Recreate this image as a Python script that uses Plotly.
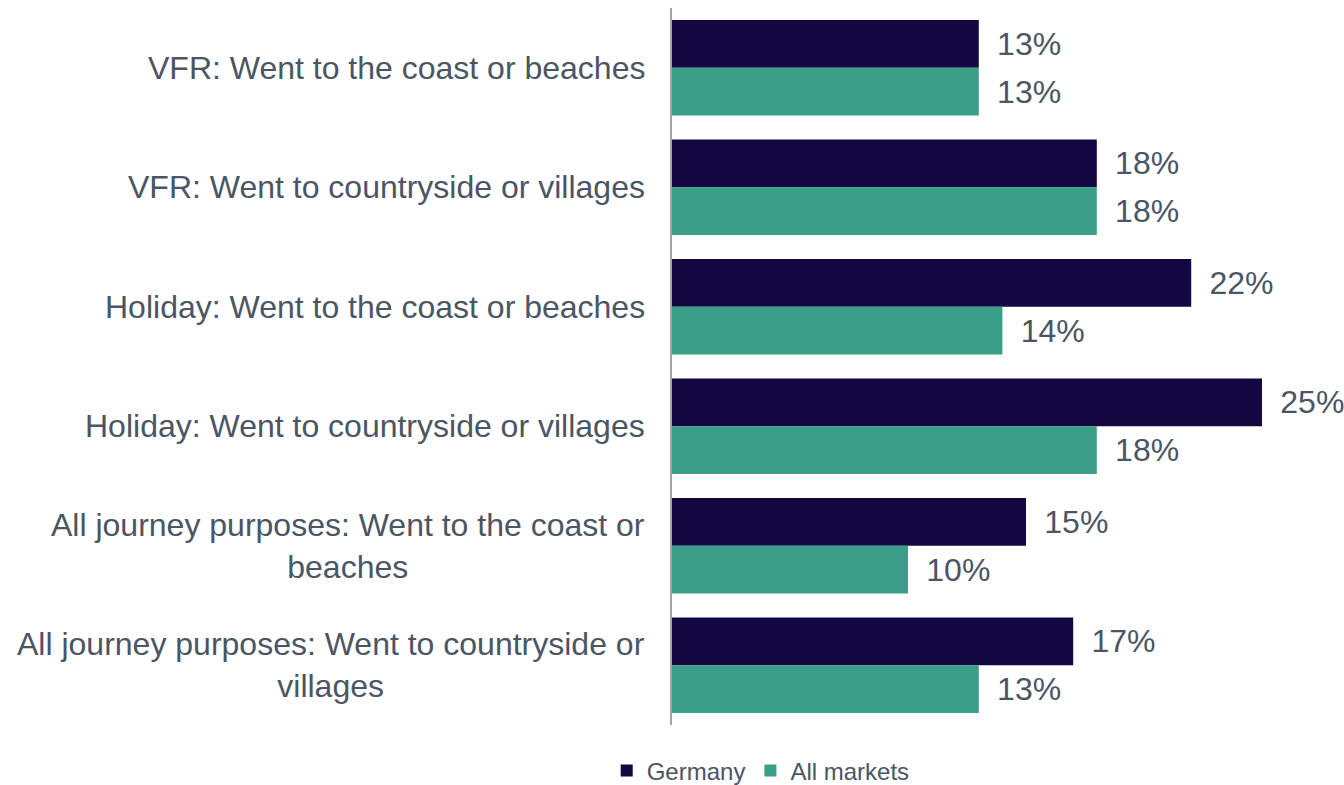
import plotly.graph_objects as go

# Categories (top to bottom) and shares of visitors, in percent
categories = [
    "VFR: Went to the coast or beaches",
    "VFR: Went to countryside or villages",
    "Holiday: Went to the coast or beaches",
    "Holiday: Went to countryside or villages",
    "All journey purposes: Went to the coast or<br>beaches",
    "All journey purposes: Went to countryside or<br>villages",
]
germany = [13, 18, 22, 25, 15, 17]
all_markets = [13, 18, 14, 18, 10, 13]

series_names = ["Germany", "All markets"]
series_colors = ["#130742", "#3A9E89"]

TEXT = "#4B5563"
FONT = "Liberation Sans, Arial, sans-serif"
PAD = "\u00a0\u2009"

fig = go.Figure()
for name, vals, color in zip(series_names, [germany, all_markets], series_colors):
    fig.add_trace(go.Bar(
        y=categories,
        x=vals,
        name=name,
        orientation="h",
        marker=dict(color=color, line=dict(width=0)),
        text=vals,
        texttemplate=PAD + "%{x:.0f}%",
        textposition="outside",
        textfont=dict(size=32, color=TEXT, family=FONT),
        cliponaxis=False,
    ))

# Category labels, centred line by line and right-aligned to the axis
for cat in categories:
    fig.add_annotation(
        x=0, xref="paper", y=cat, yref="y",
        text=cat, showarrow=False,
        xanchor="right", yanchor="middle", align="center",
        xshift=-25,
        font=dict(size=32, color=TEXT, family=FONT),
    )

fig.update_layout(
    width=1344, height=785,
    margin=dict(l=672, r=24, t=8, b=60, autoexpand=False),
    paper_bgcolor="white", plot_bgcolor="white",
    barmode="group", bargap=0.2, bargroupgap=0,
    font=dict(family=FONT, color=TEXT),
    showlegend=True,
    legend=dict(
        orientation="h",
        xref="container", x=0.566, xanchor="center",
        yref="container", y=0.018, yanchor="middle",
        font=dict(size=24, color=TEXT, family=FONT),
        itemwidth=30,
        traceorder="normal",
    ),
    xaxis=dict(range=[0, 648 / 23.6], showgrid=False, zeroline=False,
               showticklabels=False, showline=False, fixedrange=True),
    yaxis=dict(autorange="reversed", showgrid=False, zeroline=False,
               showticklabels=False, showline=True, linecolor="#A6A6A6",
               linewidth=1.5, ticks=""),
)

fig.write_html("out.html")
